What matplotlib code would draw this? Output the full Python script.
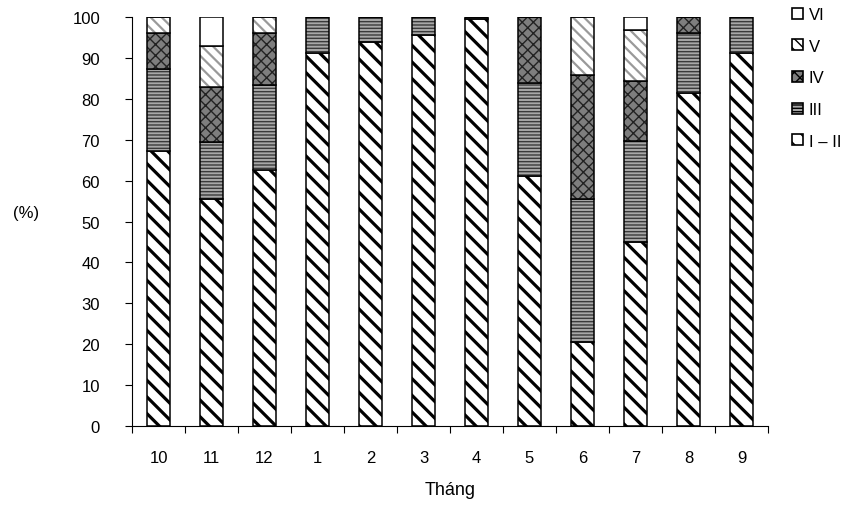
import matplotlib.pyplot as plt
import matplotlib.patches as mpatches
import numpy as np
from matplotlib.ticker import MultipleLocator, FixedLocator, NullFormatter

plt.rcParams['font.family'] = ['Liberation Sans', 'DejaVu Sans']

months = ["10", "11", "12", "1", "2", "3", "4", "5", "6", "7", "8", "9"]
labels = ["I – II", "III", "IV", "V", "VI"]

stage_12 = [67.2, 55.5, 62.6, 91.2, 94.0, 95.6, 99.5, 61.1, 20.6, 45.0, 81.5, 91.2]
stage_3 = [20.0, 13.9, 20.8, 8.8, 6.0, 4.4, 0.5, 22.8, 34.9, 24.7, 14.5, 8.8]
stage_4 = [8.8, 13.6, 12.6, 0.0, 0.0, 0.0, 0.0, 16.1, 30.3, 14.7, 4.0, 0.0]
stage_5 = [4.0, 10.0, 4.0, 0.0, 0.0, 0.0, 0.0, 0.0, 14.2, 12.4, 0.0, 0.0]
stage_6 = [0.0, 7.0, 0.0, 0.0, 0.0, 0.0, 0.0, 0.0, 0.0, 3.2, 0.0, 0.0]

series = [stage_12, stage_3, stage_4, stage_5, stage_6]
# (facecolor, hatch, hatch colour, hatch linewidth)
styles = [
    ("white", "\\\\", "black", 2.3),
    ("#a8a8a8", "-----", "#3a3a3a", 1.0),
    ("#7e7e7e", "xxx", "#222222", 1.0),
    ("white", "\\\\\\", "#9a9a9a", 1.6),
    ("white", "", "#777777", 1.0),
]

fig = plt.figure(figsize=(8.54, 5.06), dpi=100)
ax = fig.add_axes([0.1546, 0.156, 0.7447, 0.8084])

x = np.arange(len(months))
w = 0.42
bottom = np.zeros(len(months))
handles = []
for vals, lab, (fc, h, hc, lw) in zip(series, labels, styles):
    vals = np.array(vals)
    with plt.rc_context({'hatch.linewidth': lw}):
        bars = ax.bar(x, vals, w, bottom=bottom, color=fc, edgecolor=hc,
                      hatch=h, linewidth=0)
        for b in bars:
            if hasattr(b, "set_hatch_linewidth"):
                b.set_hatch_linewidth(lw)
        ax.bar(x, vals, w, bottom=bottom, fill=False, edgecolor="black",
               linewidth=1.1)
        p = mpatches.Patch(facecolor=fc, edgecolor="black", hatch=h, linewidth=1.2)
        if hasattr(p, "set_hatch_linewidth"):
            p.set_hatch_linewidth(min(lw, 1.2))
    handles.append(p)
    bottom = bottom + vals

ax.set_xlim(-0.5, len(months) - 0.5)
ax.set_ylim(0, 100)
ax.yaxis.set_major_locator(MultipleLocator(10))

ax.xaxis.set_major_locator(FixedLocator(np.arange(len(months) + 1) - 0.5))
ax.xaxis.set_major_formatter(NullFormatter())
ax.xaxis.set_minor_locator(FixedLocator(x))
ax.set_xticklabels(months, minor=True)
ax.tick_params(axis='x', which='major', direction='out', length=5, width=0.8)
ax.tick_params(axis='x', which='minor', length=0, pad=17, labelsize=12)
ax.tick_params(axis='y', direction='out', length=5, width=0.8, labelsize=12, pad=18)

for s in ['top', 'right']:
    ax.spines[s].set_visible(False)
ax.spines['left'].set_linewidth(0.8)
ax.spines['bottom'].set_linewidth(0.8)

ax.set_xlabel("Tháng", fontsize=13, va='center')
ax.xaxis.set_label_coords(0.5, -0.156)
ax.set_ylabel("(%)", fontsize=12, rotation=0, va='center', ha='center')
ax.yaxis.set_label_coords(-0.167, 0.521)

ax.legend(handles[::-1], labels[::-1], loc='upper left',
          bbox_to_anchor=(792 / 854, 1 - 8 / 506), bbox_transform=fig.transFigure,
          frameon=False, fontsize=12, handlelength=0.65, handleheight=0.65,
          handletextpad=0.35, labelspacing=1.0, borderpad=0, borderaxespad=0)

fig.savefig("out.png", dpi=100)
